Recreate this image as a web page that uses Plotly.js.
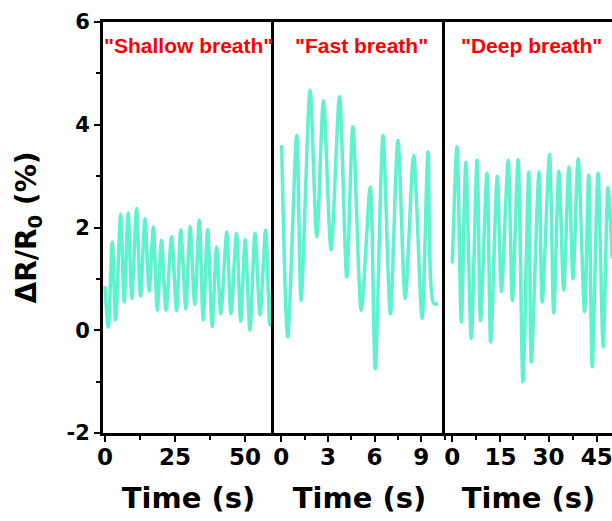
<!DOCTYPE html>
<html>
<head>
<meta charset="utf-8">
<script src="https://cdn.plot.ly/plotly-3.0.1.min.js"></script>
<style>
  html, body { margin: 0; padding: 0; background: #ffffff; }
  #chart { width: 612px; height: 521px; }
</style>
</head>
<body>
<div id="chart"></div>
<script>
// Resistance response during three breathing patterns (peak / valley readings)
const panelLabels = ['"Shallow breath"', '"Fast breath"', '"Deep breath"'];

const shallowTime = [0, 1.2, 2.6, 3.8, 5.6, 6.9, 8.3, 9.6, 11.3, 12.7, 14.3, 15.8, 17.3, 18.7,
  20.2, 21.8, 23.8, 25.6, 27.1, 28.9, 30.4, 32.1, 33.7, 35.1, 36.7, 38.3, 39.9, 41.4,
  43.5, 45.0, 47.0, 48.5, 50.1, 51.8, 53.6, 55.4, 57.4, 58.9, 59.8];
const shallowValue = [0.86, 0.06, 1.72, 0.2, 2.26, 0.55, 2.28, 0.62, 2.37, 0.66, 2.17, 0.76, 2.01, 0.39,
  1.75, 0.39, 1.82, 0.38, 1.95, 0.42, 2.02, 0.5, 2.14, 0.2, 1.96, 0.07, 1.62, 0.32,
  1.91, 0.32, 1.89, 0.17, 1.76, 0.0, 1.89, 0.3, 1.95, 0.1, 0.78];

const fastTime = [0.02, 0.41, 0.99, 1.27, 1.85, 2.28, 2.71, 3.2, 3.74, 4.21, 4.6, 5.14,
  5.72, 6.04, 6.54, 7.01, 7.5, 7.97, 8.51, 9.05, 9.44, 9.8, 10.08];
const fastValue = [3.6, -0.13, 3.79, 0.58, 4.67, 1.82, 4.47, 1.56, 4.55, 1.04, 3.96, 0.39,
  2.79, -0.75, 3.79, 0.32, 3.7, 0.62, 3.4, 0.23, 3.47, 0.52, 0.52];

const deepTime = [0, 1.46, 2.8, 4.2, 5.9, 7.7, 8.8, 10.8, 11.96, 14, 15.3, 17.4, 18.7, 20.5,
  22, 23.8, 24.6, 27, 28, 30.3, 31.6, 33.2, 34.7, 36.3, 37.6, 39.2, 41.2, 42.5,
  43.6, 45.4, 47, 48.5, 49.8];
const deepValue = [1.3, 3.57, 0.16, 3.27, -0.16, 3.31, 0.19, 3.05, -0.23, 3.0, 0.75, 3.31, 0.58, 3.32,
  -1.0, 3.08, -0.62, 3.08, 0.55, 3.42, 0.34, 3.1, 0.78, 3.18, 1.0, 3.34, 0.36, 3.02,
  -0.71, 3.06, -0.32, 2.78, 1.4];

// y tick labels use a plain hyphen for negatives
const yTickValues = [-2, 0, 2, 4, 6];
const yTickText = ['-2', '0', '2', '4', '6'];

const xTitle = 'Time (s)';
const yTitle = '\u0394R/R<sub>0</sub> (%)';

const lineColor = '#5ef2cf';
const boldFont = { family: 'DejaVu Sans', weight: 700, color: '#000000' };

function trace(x, y, xa, ya) {
  return {
    x: x, y: y, xaxis: xa, yaxis: ya, type: 'scatter', mode: 'lines',
    line: { color: lineColor, width: 3.5, shape: 'spline', smoothing: 0.8 },
    hoverinfo: 'skip', showlegend: false
  };
}

const data = [
  trace(shallowTime, shallowValue, 'x', 'y'),
  trace(fastTime, fastValue, 'x2', 'y2'),
  trace(deepTime, deepValue, 'x3', 'y3')
];

function xAxis(domain, range, dtick, anchor) {
  return {
    domain: domain, range: range, anchor: anchor,
    tick0: 0, dtick: dtick, ticks: 'outside', ticklen: 6, tickwidth: 2, tickcolor: '#000',
    minor: { dtick: dtick / 2, tick0: 0, ticks: 'outside', ticklen: 4, tickwidth: 2, tickcolor: '#000' },
    showline: true, linecolor: '#000', linewidth: 3, mirror: true,
    showgrid: false, zeroline: false,
    ticklabeloverflow: 'allow', ticklabelstandoff: -5,
    tickfont: Object.assign({ size: 23 }, boldFont),
    title: { text: xTitle, font: Object.assign({ size: 29 }, boldFont), standoff: 20 }
  };
}

function yAxisCommon(anchor) {
  return {
    anchor: anchor, domain: [0, 1], range: [-2, 6], mirror: false,
    showline: true, linecolor: '#000', linewidth: 3,
    showgrid: false, zeroline: false
  };
}

const layout = {
  width: 612, height: 521,
  margin: { l: 103, r: 0, t: 22, b: 88 },
  paper_bgcolor: '#ffffff', plot_bgcolor: '#ffffff',
  xaxis: xAxis([0, 0.336], [-0.7, 60.4], 25, 'y'),
  xaxis2: xAxis([0.336, 0.672], [-0.47, 10.53], 3, 'y2'),
  xaxis3: xAxis([0.672, 1], [-2.27, 49.75], 15, 'y3'),
  yaxis: Object.assign(yAxisCommon('x'), {
    tickmode: 'array', tickvals: yTickValues, ticktext: yTickText,
    ticks: 'outside', ticklen: 6, tickwidth: 2, tickcolor: '#000',
    minor: { tickmode: 'linear', tick0: -1, dtick: 2, ticks: 'outside', ticklen: 4, tickwidth: 2, tickcolor: '#000' },
    tickfont: Object.assign({ size: 21 }, boldFont),
    title: { text: yTitle, font: Object.assign({ size: 28 }, boldFont), standoff: 22 }
  }),
  yaxis2: Object.assign(yAxisCommon('x2'), { showticklabels: false, ticks: '', matches: 'y' }),
  yaxis3: Object.assign(yAxisCommon('x3'), { showticklabels: false, ticks: '', matches: 'y' }),
  annotations: [
    { xref: 'x domain', x: 0.5 },
    { xref: 'x2 domain', x: 0.51 },
    { xref: 'x3 domain', x: 0.52 }
  ].map((a, i) => Object.assign(a, {
    text: panelLabels[i], yref: 'paper', y: 0.942, showarrow: false,
    xanchor: 'center', yanchor: 'middle',
    font: { family: 'Liberation Sans', size: 21, weight: 700, color: '#ff0000' }
  }))
};

Plotly.newPlot('chart', data, layout, { staticPlot: true, displayModeBar: false });
</script>
</body>
</html>
